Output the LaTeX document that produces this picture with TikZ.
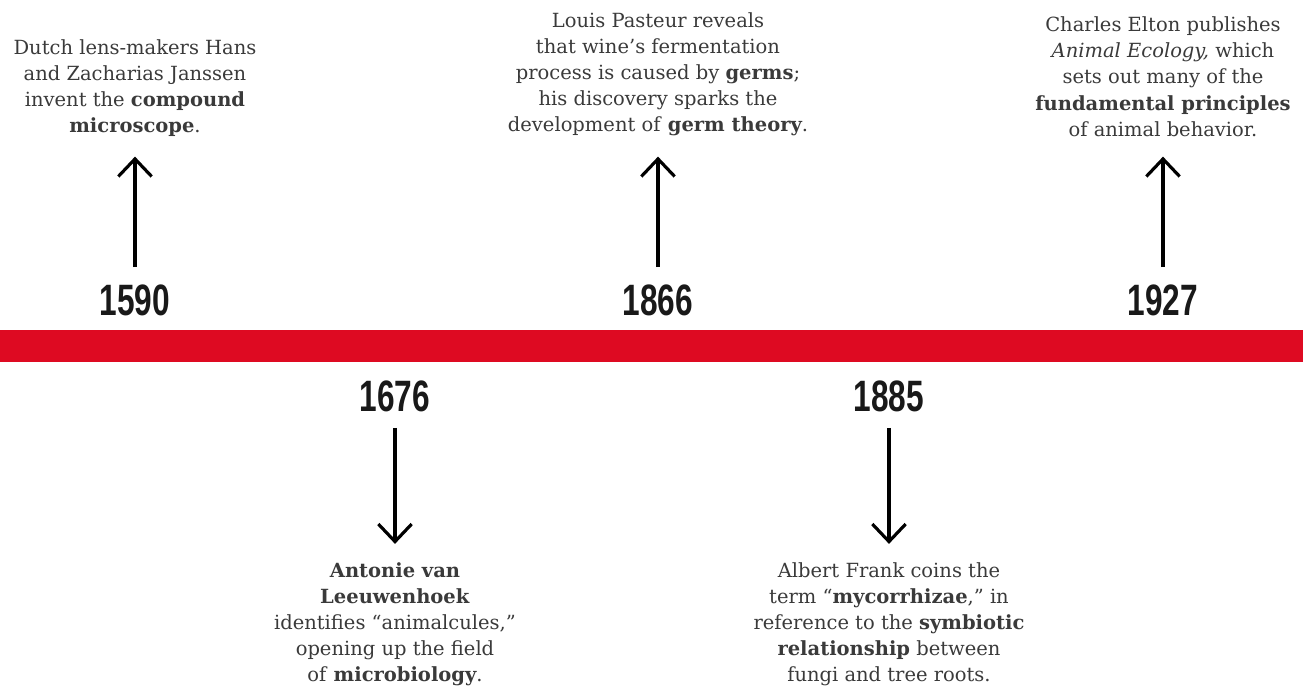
\documentclass[tikz,border=0pt]{standalone}
\usepackage{fontspec}
\setmainfont{DejaVu Serif}
\newfontfamily\yearfont[FakeStretch=0.72]{Liberation Sans}
\usepackage{tikz}
\usetikzlibrary{arrows.meta,positioning}
\definecolor{barred}{HTML}{DE0A22}
\definecolor{inkgray}{HTML}{3A3A3A}

\begin{document}
\begin{tikzpicture}[
    x=0.02cm, y=-0.02cm,
    node distance=2.95cm,
    year/.style={inner sep=0pt, text=black!90, font=\yearfont\bfseries\fontsize{25}{25}\selectfont},
    note/.style={inner sep=0pt, align=center, text=inkgray, font=\fontsize{11.1}{14.8}\selectfont},
    edge/.style={-{Straight Barb[length=10pt,width=19pt,line width=1.8pt]}, line width=1.9pt}
]
    \useasboundingbox (0,0) rectangle (1303,690);
    \fill[barred] (0,330) rectangle (1303,362);

    % years above the bar
    \node[year] (y1590) at (135,300) {1590};
    \node[year] (y1866) at (658,300) {1866};
    \node[year] (y1927) at (1163,300) {1927};
    % years below the bar
    \node[year] (y1676) at (395,396) {1676};
    \node[year] (y1885) at (889,396) {1885};

    \node[note, above=of y1590] (t1590) {Dutch lens-makers Hans\\and Zacharias Janssen\\invent the \textbf{compound}\\\textbf{microscope}.};
    \node[note, above=of y1866] (t1866) {Louis Pasteur reveals\\that wine’s fermentation\\process is caused by \textbf{germs};\\his discovery sparks the\\development of \textbf{germ theory}.};
    \node[note, above=of y1927] (t1927) {Charles Elton publishes\\\textit{Animal Ecology,} which\\sets out many of the\\\textbf{fundamental principles}\\of animal behavior.};
    \node[note, below=3cm of y1676] (t1676) {\textbf{Antonie van}\\\textbf{Leeuwenhoek}\\identifies “animalcules,”\\opening up the field\\of \textbf{microbiology}.};
    \node[note, below=3cm of y1885] (t1885) {Albert Frank coins the\\term “\textbf{mycorrhizae},” in\\reference to the \textbf{symbiotic}\\\textbf{relationship} between\\fungi and tree roots.};

    \draw[edge, shorten <=0.34cm, shorten >=0.4cm] (y1590) -- (t1590);
    \draw[edge, shorten <=0.34cm, shorten >=0.4cm] (y1866) -- (t1866);
    \draw[edge, shorten <=0.34cm, shorten >=0.4cm] (y1927) -- (t1927);
    \draw[edge, shorten <=0.32cm, shorten >=0.36cm] (y1676) -- (t1676);
    \draw[edge, shorten <=0.32cm, shorten >=0.36cm] (y1885) -- (t1885);
\end{tikzpicture}
\end{document}
